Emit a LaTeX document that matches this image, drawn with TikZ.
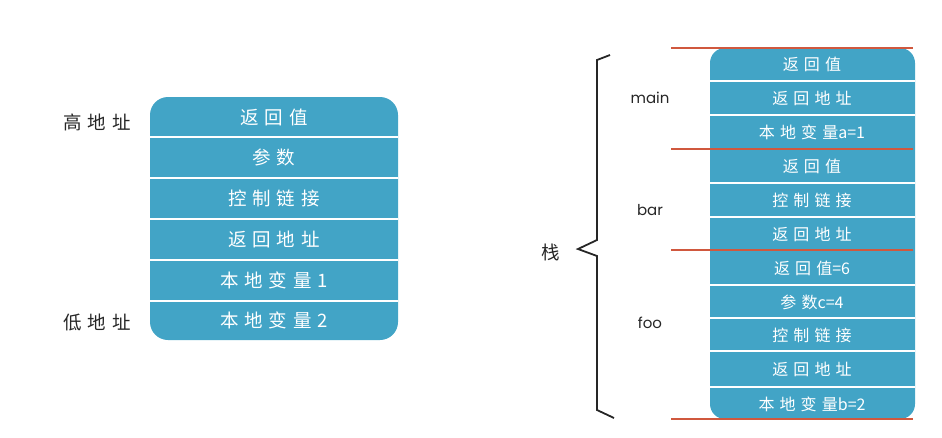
\documentclass[tikz,border=0pt]{standalone}
\usepackage{fontspec}
\newfontfamily\cjk[LetterSpace=32]{Noto Sans CJK SC}
\newfontfamily\cjkn{Noto Sans CJK SC}
\newfontfamily\lat{Poppins}
\definecolor{cellblue}{RGB}{66,164,198}
\definecolor{redline}{RGB}{208,88,62}
\tikzset{
  stackbox/.style={fill=cellblue, draw=none, rounded corners=18pt, inner sep=0pt},
  celltxt/.style={text=white, font=\cjk\fontsize{18.5}{21}\selectfont, inner sep=0pt},
  celltxtR/.style={text=white, font=\cjk\fontsize{16}{19}\selectfont, inner sep=0pt},
  sidelbl/.style={text=black!85, font=\cjk\fontsize{18.5}{21}\selectfont, inner sep=0pt},
  fnlbl/.style={text=black!85, font=\lat\fontsize{15}{18}\selectfont, inner sep=0pt},
  sep/.style={white, line width=2.5pt},
  redsep/.style={redline, line width=2pt},
  bracel/.style={black!85, line width=1.8pt, line join=miter}
}
\begin{document}
\begin{tikzpicture}[x=1pt,y=-1pt]
\useasboundingbox (0,0) rectangle (942,437);
% ---------- left stack ----------
\node[stackbox, minimum width=248, minimum height=243] (L) at (274,218.5) {};
\foreach \y in {137,178,219,260,301}
  \draw[sep] (L.west |- 0,\y) -- (L.east |- 0,\y);
\node[celltxt] (l1) at (274,117) {返回值};
\node[celltxt] (l2) at (274,157.5) {参数};
\node[celltxt] (l3) at (274,198.5) {控制链接};
\node[celltxt] (l4) at (274,239.5) {返回地址};
\node[celltxt] (l5) at (274,280.5) {本地变量1};
\node[celltxt] (l6) at (274,320) {本地变量2};
\node[sidelbl] (hi) at (97,122) {高地址};
\node[sidelbl] (lo) at (97,322) {低地址};
% ---------- right stack ----------
\node[stackbox, rounded corners=15pt, minimum width=205, minimum height=371] (R) at (812.5,233.5) {};
\foreach \y in {81,115,183,217,285,318,351,387}
  \draw[sep] (R.west |- 0,\y) -- (R.east |- 0,\y);
\coordinate (ra) at (671,48);  \coordinate (rb) at (913,48);
\coordinate (rc) at (671,149); \coordinate (rd) at (913,149);
\coordinate (re) at (671,250); \coordinate (rf) at (913,250);
\coordinate (rg) at (671,419); \coordinate (rh) at (913,419);
\draw[redsep] (ra) -- (rb);
\draw[redsep] (rc) -- (rd);
\draw[redsep] (re) -- (rf);
\draw[redsep] (rg) -- (rh);
\node[celltxtR] (r1) at (812,64.5) {返回值};
\node[celltxtR] (r2) at (812,98) {返回地址};
\node[celltxtR] (r3) at (812,132) {本地变量{\cjkn a=1}};
\node[celltxtR] (r4) at (812,166) {返回值};
\node[celltxtR] (r5) at (812,200) {控制链接};
\node[celltxtR] (r6) at (812,234) {返回地址};
\node[celltxtR] (r7) at (812,268) {返回值{\cjkn =6}};
\node[celltxtR] (r8) at (812,302) {参数{\cjkn c=4}};
\node[celltxtR] (r9) at (812,335) {控制链接};
\node[celltxtR] (r10) at (812,369) {返回地址};
\node[celltxtR] (r11) at (812,404) {本地变量{\cjkn b=2}};
\node[fnlbl] (fmain) at (650,98) {main};
\node[fnlbl] (fbar) at (650,210) {bar};
\node[fnlbl] (ffoo) at (650,323) {foo};
\node[sidelbl] (zhan) at (551,252) {栈};
% brace
\coordinate (b1) at (610,55);
\coordinate (b2) at (597,60);
\coordinate (b3) at (597,240);
\coordinate (b4) at (578,249);
\coordinate (b5) at (597,256);
\coordinate (b6) at (597,410);
\coordinate (b7) at (614,418);
\draw[bracel] (b1) -- (b2) -- (b3) -- (b4) -- (b5) -- (b6) -- (b7);
\end{tikzpicture}
\end{document}
